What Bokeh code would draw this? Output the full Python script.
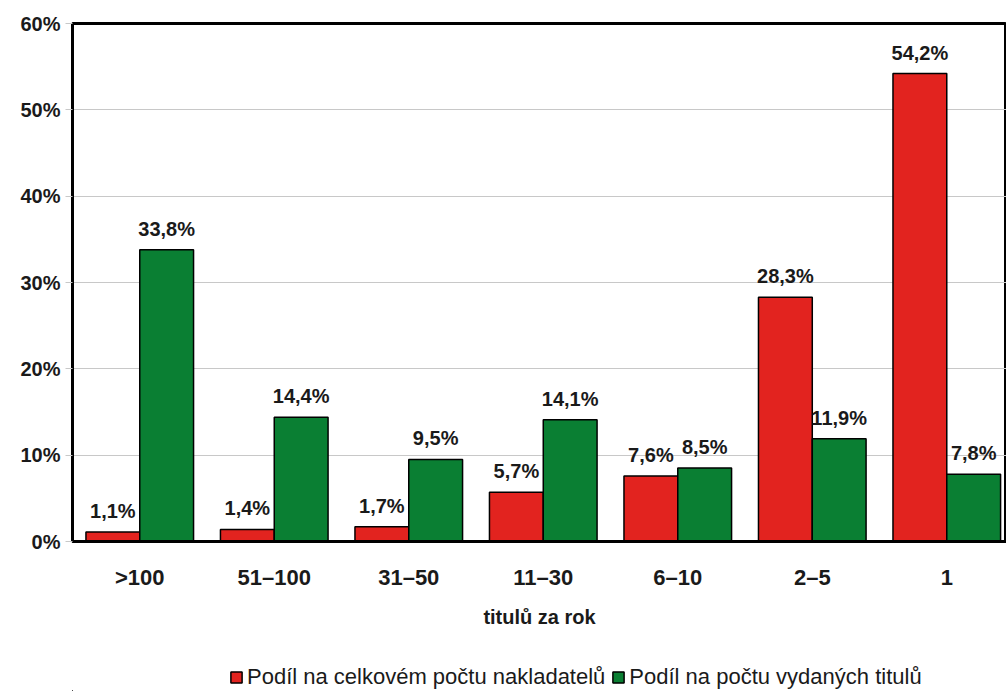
from bokeh.plotting import figure
from bokeh.models import ColumnDataSource, FixedTicker, Legend, LegendItem, Range1d
from bokeh.layouts import column
from bokeh.embed import file_html
from bokeh.resources import INLINE
from bokeh.core.properties import value

categories = [">100", "51–100", "31–50", "11–30", "6–10", "2–5", "1"]
publishers_share = [1.1, 1.4, 1.7, 5.7, 7.6, 28.3, 54.2]
titles_share = [33.8, 14.4, 9.5, 14.1, 8.5, 11.9, 7.8]
y_ticks = [0, 10, 20, 30, 40, 50, 60]
series_names = ["Podíl na celkovém počtu nakladatelů", "Podíl na počtu vydaných titulů"]

RED = "#e2231f"
GREEN = "#0a7f33"
FONT = "Liberation Sans"

def fmt(v):
    return ("%.1f" % v).replace(".", ",") + "%"

idx = list(range(len(categories)))
red_src = ColumnDataSource(dict(x=[i - 0.2 for i in idx], top=publishers_share,
                                label=[fmt(v) for v in publishers_share]))
green_src = ColumnDataSource(dict(x=[i + 0.2 for i in idx], top=titles_share,
                                  label=[fmt(v) for v in titles_share]))

p = figure(width=1006, height=650, output_backend="svg", toolbar_location=None,
           x_range=Range1d(-0.5, 6.444), y_range=Range1d(0, 60),
           min_border_left=72, min_border_top=23, min_border_right=0, min_border_bottom=109)

r1 = p.vbar(x="x", top="top", width=0.4, source=red_src, fill_color=RED,
            line_color="black", line_width=1.5)
r2 = p.vbar(x="x", top="top", width=0.4, source=green_src, fill_color=GREEN,
            line_color="black", line_width=1.5)

for src in (red_src, green_src):
    p.text(x="x", y="top", text="label", source=src, text_align="center",
           text_baseline="bottom", y_offset=-10, text_font=value(FONT),
           text_font_style="bold", text_font_size="20px", text_color="#1a1a1a")

p.outline_line_color = "black"
p.outline_line_width = 3
p.background_fill_color = "white"
p.border_fill_color = "white"

p.xgrid.grid_line_color = None
p.ygrid.grid_line_color = "#c8c8c8"
p.ygrid.grid_line_width = 1

p.yaxis.ticker = FixedTicker(ticks=y_ticks)
p.yaxis.major_label_overrides = {t: "%d%%" % t for t in y_ticks}
p.yaxis.axis_line_color = "black"
p.yaxis.axis_line_width = 3
p.yaxis.major_tick_line_color = "#c8c8c8"
p.yaxis.major_tick_out = 7
p.yaxis.major_tick_in = 0
p.yaxis.minor_tick_line_color = None
p.yaxis.major_label_standoff = 5
p.yaxis.major_label_text_font = FONT
p.yaxis.major_label_text_font_style = "bold"
p.yaxis.major_label_text_font_size = "20px"
p.yaxis.major_label_text_color = "#1a1a1a"

p.xaxis.ticker = FixedTicker(ticks=idx)
p.xaxis.major_label_overrides = {i: c for i, c in zip(idx, categories)}
p.xaxis.axis_line_color = "black"
p.xaxis.axis_line_width = 3
p.xaxis.major_tick_line_color = None
p.xaxis.minor_tick_line_color = None
p.xaxis.major_label_standoff = 17
p.xaxis.major_label_text_font = FONT
p.xaxis.major_label_text_font_style = "bold"
p.xaxis.major_label_text_font_size = "22px"
p.xaxis.major_label_text_color = "#1a1a1a"
p.xaxis.axis_label = "titulů za rok"
p.xaxis.axis_label_text_font = FONT
p.xaxis.axis_label_text_font_style = "bold"
p.xaxis.axis_label_text_font_size = "20px"
p.xaxis.axis_label_text_color = "#1a1a1a"
p.xaxis.axis_label_standoff = 13

# legend strip below the chart (its renderers reuse the data but lie outside its view)
q = figure(width=1006, height=41, output_backend="svg", toolbar_location=None,
           x_range=Range1d(100, 101), y_range=Range1d(100, 101),
           min_border_left=0, min_border_top=0, min_border_right=0, min_border_bottom=0)
q.axis.visible = False
q.grid.grid_line_color = None
q.outline_line_color = None
l1 = q.vbar(x="x", top="top", width=0.4, source=red_src,
            fill_color=RED, line_color="black", line_width=1.5)
l2 = q.vbar(x="x", top="top", width=0.4, source=green_src,
            fill_color=GREEN, line_color="black", line_width=1.5)
legend = Legend(items=[LegendItem(label=series_names[0], renderers=[l1]),
                       LegendItem(label=series_names[1], renderers=[l2])],
                orientation="horizontal", location=(157, 1),
                border_line_color=None, background_fill_alpha=0,
                label_text_font=FONT, label_text_font_size="22px",
                label_text_color="#1a1a1a", glyph_width=14, glyph_height=14,
                spacing=6, label_standoff=4, margin=0, padding=2)
q.add_layout(legend, "center")

layout = column(p, q, spacing=0)
open("out.html", "w").write(file_html(layout, INLINE))
